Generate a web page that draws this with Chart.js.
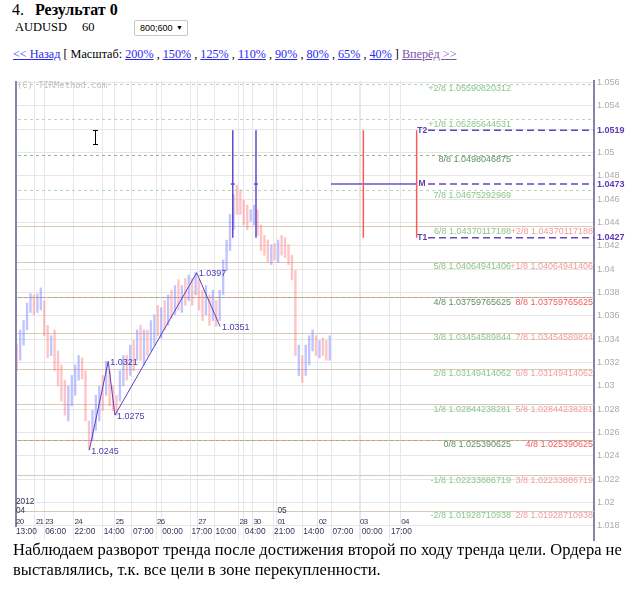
<!DOCTYPE html>
<html>
<head>
<meta charset="utf-8">
<script src="https://cdn.jsdelivr.net/npm/chart.js@4.4.0/dist/chart.umd.min.js"></script>
<style>
  body { margin: 0; background: #fff; color: #000; font-family: 'Liberation Serif', serif; width: 642px; height: 592px; overflow: hidden; position: relative; }
  .abs { position: absolute; white-space: nowrap; }
  a { color: #2a2aee; text-decoration: underline; }
  a.vis { color: #7b52a8; }
  #sel { position: absolute; left: 134px; top: 20px; width: 52px; height: 14px; border: 1px solid #c8c8c8; border-radius: 2px; font: 9px 'Liberation Sans', sans-serif; line-height: 14px; }
  #sel span { position: absolute; left: 5px; }
  #sel i { position: absolute; right: 4px; top: 0; font-style: normal; font-size: 7px; }
  #chartWrap { position: absolute; left: 0; top: 76px; width: 642px; height: 470px; }
  .beam { position: absolute; background: #000; }
</style>
</head>
<body>
<div class="abs" style="left:12px;top:0;font-size:16px;line-height:20px">4.<b style="margin-left:11px">Результат 0</b></div>
<div class="abs" style="left:15px;top:20px;font-size:12.5px;line-height:14px">AUDUSD</div>
<div class="abs" style="left:82px;top:20px;font-size:12.5px;line-height:14px">60</div>
<div id="sel"><span>800;600</span><i>&#9660;</i></div>
<div class="abs" style="left:13px;top:47px;font-size:12.2px;line-height:15px">
  <a href="#">&lt;&lt; Назад</a> [ Масштаб: <a href="#">200%</a> , <a href="#">150%</a> , <a href="#">125%</a> , <a href="#">110%</a> , <a href="#">90%</a> , <a href="#">80%</a> , <a href="#">65%</a> , <a href="#">40%</a> ] <a class="vis" href="#">Вперёд &gt;&gt;</a>
</div>

<div id="chartWrap"><canvas id="chart" width="642" height="470"></canvas></div>

<!-- text cursor left on the screenshot -->
<div class="beam" style="left:95px;top:131px;width:1px;height:13px"></div>
<div class="beam" style="left:93px;top:130px;width:5px;height:1px"></div>
<div class="beam" style="left:93px;top:144px;width:5px;height:1px"></div>

<div class="abs" style="left:13px;top:540px;font-size:16.5px;line-height:20px">Наблюдаем разворот тренда после достижения второй по ходу тренда цели. Ордера не<br>выставлялись, т.к. все цели в зоне перекупленности.</div>

<script>
// bar positions, in hours from the first bar (20.04 13:00), one bar per 2 hours
var barHours = [1, 3, 5, 7, 9, 11, 13, 15, 17, 19, 21, 23, 25, 27, 29, 31, 33, 35, 37, 39,
  41, 43, 45, 47, 49, 51, 53, 55, 57, 59, 61, 63, 65, 67, 69, 71, 73, 75, 77, 79,
  81, 83, 85, 87, 89, 91, 93, 95, 97, 99, 101, 103, 105, 107, 109, 111, 113, 115, 117, 119,
  121, 123, 125, 127, 129, 131, 133, 135, 137, 139, 141, 143, 145, 147, 149, 151, 153, 155, 157, 159,
  161, 163, 165, 167, 169, 171, 173, 175, 177, 179, 181, 183];
var barHigh = [1.0336, 1.0348, 1.0356, 1.0371, 1.0379, 1.0378, 1.0379, 1.0384, 1.0373, 1.0352,
  1.0343, 1.0348, 1.0330, 1.0318, 1.0305, 1.0300, 1.0309, 1.0318, 1.0326, 1.0324,
  1.0313, 1.0270, 1.0279, 1.0292, 1.0300, 1.0309, 1.0321, 1.0313, 1.0300, 1.0292,
  1.0313, 1.0326, 1.0326, 1.0335, 1.0339, 1.0348, 1.0352, 1.0348, 1.0348, 1.0356,
  1.0361, 1.0369, 1.0367, 1.0373, 1.0378, 1.0382, 1.0386, 1.0391, 1.0386, 1.0392,
  1.0395, 1.0392, 1.0397, 1.0391, 1.0382, 1.0386, 1.0378, 1.0382, 1.0373, 1.0382,
  1.0408, 1.0425, 1.0447, 1.0464, 1.0472, 1.0468, 1.0459, 1.0455, 1.0451, 1.0455,
  1.0451, 1.0438, 1.0429, 1.0425, 1.0421, 1.0422, 1.0425, 1.0429, 1.0427, 1.0421,
  1.0412, 1.0399, 1.0335, 1.0326, 1.0335, 1.0343, 1.0348, 1.0343, 1.0339, 1.0341,
  1.0339, 1.0343];
var barLow = [1.0313, 1.0322, 1.0335, 1.0348, 1.0363, 1.0361, 1.0363, 1.0365, 1.0343, 1.0324,
  1.0326, 1.0313, 1.0300, 1.0287, 1.0275, 1.0270, 1.0283, 1.0292, 1.0305, 1.0306,
  1.0270, 1.0245, 1.0253, 1.0262, 1.0270, 1.0279, 1.0292, 1.0283, 1.0279, 1.0275,
  1.0287, 1.0300, 1.0305, 1.0309, 1.0313, 1.0322, 1.0322, 1.0318, 1.0326, 1.0330,
  1.0335, 1.0343, 1.0341, 1.0348, 1.0352, 1.0358, 1.0361, 1.0365, 1.0363, 1.0369,
  1.0373, 1.0369, 1.0378, 1.0365, 1.0356, 1.0361, 1.0352, 1.0356, 1.0351, 1.0356,
  1.0378, 1.0399, 1.0416, 1.0434, 1.0447, 1.0447, 1.0438, 1.0434, 1.0441, 1.0438,
  1.0429, 1.0416, 1.0412, 1.0406, 1.0404, 1.0408, 1.0406, 1.0412, 1.0410, 1.0404,
  1.0391, 1.0326, 1.0309, 1.0303, 1.0309, 1.0318, 1.0330, 1.0326, 1.0324, 1.0326,
  1.0322, 1.0322];
// 1 = rising bar (blue), 0 = falling bar (red)
var barUp = [0, 1, 1, 1, 1, 0, 1, 1, 0, 0, 1, 0, 0, 0, 0, 1, 1, 1, 1, 0,
  0, 0, 1, 1, 1, 0, 1, 0, 0, 0, 1, 1, 0, 1, 0, 1, 0, 1, 0, 1,
  1, 0, 1, 0, 1, 0, 1, 0, 1, 0, 1, 0, 1, 0, 0, 1, 0, 1, 0, 1,
  1, 1, 1, 1, 0, 0, 0, 0, 1, 1, 0, 0, 0, 0, 1, 0, 1, 0, 0, 0,
  0, 0, 1, 0, 1, 1, 1, 0, 1, 0, 0, 1];

// zigzag
var zigHours = [43.2, 54.2, 58.1, 105.6, 119.2];
var zigPrices = [1.0245, 1.0321, 1.0275, 1.0397, 1.0351];

// murrey math levels
var greenLabels = ['+2/8', '+1/8', '8/8', '7/8', '6/8', '5/8', '4/8', '3/8', '2/8', '1/8', '0/8', '-1/8', '-2/8'];
var greenLevels = [1.05590820312, 1.05285644531, 1.0498046875, 1.04675292969, 1.04370117188, 1.04064941406,
  1.03759765625, 1.03454589844, 1.03149414062, 1.02844238281, 1.025390625, 1.02233886719, 1.01928710938];
var redLabels = ['+2/8', '+1/8', '8/8', '7/8', '6/8', '5/8', '4/8', '3/8', '2/8'];
var redLevels = [1.04370117188, 1.04064941406, 1.03759765625, 1.03454589844, 1.03149414062,
  1.02844238281, 1.025390625, 1.02233886719, 1.01928710938];

// targets
var targetLabels = ['T2', 'M', 'T1'];
var targetLevels = [1.0519, 1.0473, 1.0427];
var targetStartHour = 240.1;
var purpleMarkHours = [126.6, 140.1];
var redMarkHours = [202.5, 233.5];
var midLineHours = [183.7, 233.5];

// time axis
var dateHours = [0, 11.6, 17, 34, 58, 82, 106, 130, 138, 152, 176, 200, 224];
var dateLabels = ['20', '21', '23', '24', '25', '26', '27', '28', '30', '01', '02', '03', '04'];
var timeHours = [0, 17, 34, 51, 68, 85, 102, 116, 133, 150, 167, 184, 201, 218];
var timeLabels = ['13:00', '06:00', '22:00', '14:00', '07:00', '00:00', '17:00', '10:00', '04:00', '21:00', '14:00', '07:00', '00:00', '17:00'];
var monthHours = [0, 152];
var monthLabels = ['04', '05'];
var yearLabel = '2012';

// price axis
var yTickValues = [1.018, 1.02, 1.022, 1.024, 1.026, 1.028, 1.03, 1.032, 1.034, 1.036, 1.038,
  1.04, 1.042, 1.044, 1.046, 1.048, 1.05, 1.052, 1.054, 1.056];
var yTickLabels = ['1.018', '1.02', '1.022', '1.024', '1.026', '1.028', '1.03', '1.032', '1.034', '1.036', '1.038',
  '1.04', '1.042', '1.044', '1.046', '1.048', '1.05', '', '1.054', '1.056'];

var SANS = "'Liberation Sans', Arial, sans-serif";

function hline(ctx, a, py, color, dash, offset) {
  ctx.strokeStyle = color;
  ctx.setLineDash(dash);
  ctx.lineDashOffset = offset;
  ctx.beginPath();
  ctx.moveTo(a.left, py);
  ctx.lineTo(a.right, py);
  ctx.stroke();
}

function isStrong(label) { return label === '8/8' || label === '4/8' || label === '0/8'; }

var overlay = {
  id: 'overlay',
  beforeDatasetsDraw: function (chart) {
    var ctx = chart.ctx, a = chart.chartArea, y = chart.scales.y;
    ctx.save();
    ctx.lineWidth = 1;
    redLevels.forEach(function (v, i) {
      var py = Math.round(y.getPixelForValue(v)) + 0.5;
      hline(ctx, a, py, isStrong(redLabels[i]) ? '#ff9c9c' : '#ffb8b8', [3, 3], 0);
    });
    greenLevels.forEach(function (v, i) {
      var py = Math.round(y.getPixelForValue(v)) + 0.5;
      hline(ctx, a, py, isStrong(greenLabels[i]) ? '#8cb88c' : '#b2dab2', [3, 3], 3);
    });
    ctx.restore();
  },
  afterDatasetsDraw: function (chart) {
    var ctx = chart.ctx, a = chart.chartArea, x = chart.scales.x, y = chart.scales.y;
    ctx.save();
    ctx.textBaseline = 'middle';

    // left axis line
    ctx.fillStyle = '#8484a4';
    ctx.fillRect(a.left, a.top, 2, a.bottom - a.top - 13);

    // price axis labels
    ctx.font = '9px ' + SANS;
    ctx.textAlign = 'left';
    ctx.fillStyle = '#ababab';
    yTickValues.forEach(function (v, i) {
      ctx.fillText(yTickLabels[i], a.right + 3, y.getPixelForValue(v));
    });

    // murrey labels
    ctx.textAlign = 'right';
    greenLevels.forEach(function (v, i) {
      ctx.fillStyle = isStrong(greenLabels[i]) ? '#5f8f5f' : '#8cc68c';
      ctx.fillText(greenLabels[i] + ' ' + String(v), a.right - 83, y.getPixelForValue(v) + 5);
    });
    redLevels.forEach(function (v, i) {
      var strong = redLabels[i] === '8/8' || redLabels[i] === '4/8';
      ctx.fillStyle = strong ? '#f25c5c' : '#f29c9c';
      ctx.fillText(redLabels[i] + ' ' + String(v), a.right - 1, y.getPixelForValue(v) + 5);
    });

    // zigzag labels
    ctx.textAlign = 'left';
    ctx.fillStyle = '#4a3aa8';
    zigHours.forEach(function (h, i) {
      ctx.fillText(zigPrices[i].toFixed(4), x.getPixelForValue(h) + 2, y.getPixelForValue(zigPrices[i]) + 1);
    });

    // target names and prices
    ctx.font = 'bold 8.5px ' + SANS;
    ctx.textAlign = 'center';
    ctx.fillStyle = '#5a3ab8';
    var tx = x.getPixelForValue(redMarkHours[1]) + 5.5;
    targetLevels.forEach(function (v, i) {
      ctx.fillText(targetLabels[i], tx, y.getPixelForValue(v));
    });
    ctx.font = 'bold 9px ' + SANS;
    ctx.textAlign = 'left';
    targetLevels.forEach(function (v) {
      ctx.fillText(v.toFixed(4), a.right + 3, y.getPixelForValue(v));
    });

    // time axis labels
    ctx.font = '8.3px ' + SANS;
    ctx.fillStyle = '#34345a';
    ctx.fillText(yearLabel, x.getPixelForValue(0) + 1, a.bottom - 38);
    monthHours.forEach(function (h, i) {
      ctx.fillText(monthLabels[i], x.getPixelForValue(h) + 1, a.bottom - 29);
    });
    timeHours.forEach(function (h, i) {
      ctx.fillText(timeLabels[i], x.getPixelForValue(h) + 1, a.bottom - 8.3);
    });
    ctx.font = '8px ' + SANS;
    ctx.letterSpacing = '-0.8px';
    dateHours.forEach(function (h, i) {
      ctx.fillText(dateLabels[i], x.getPixelForValue(h) + 1, a.bottom - 18.5);
    });
    ctx.letterSpacing = '0px';

    // watermark
    ctx.font = "8.8px 'DejaVu Sans Mono', monospace";
    ctx.fillStyle = '#c2c2c2';
    ctx.fillText('(C) TIRMethod.com', a.left + 2, a.top + 5);
    ctx.restore();
  }
};

var gridHours = dateHours.concat(timeHours).filter(function (h, i, arr) {
  return h > 0 && arr.indexOf(h) === i;
}).sort(function (p, q) { return p - q; });

function seg(points, color, extra) {
  return Object.assign({
    type: 'line',
    data: points,
    borderColor: color,
    borderWidth: 1.5,
    pointRadius: 0,
    fill: false,
    order: 2
  }, extra || {});
}

var datasets = [];
datasets.push(seg(zigHours.map(function (h, i) { return { x: h, y: zigPrices[i] }; }), '#5a40c0', { borderWidth: 1, order: 1 }));
purpleMarkHours.forEach(function (h) {
  datasets.push(seg([{ x: h, y: targetLevels[0] }, { x: h, y: targetLevels[1] }, { x: h, y: targetLevels[2] }], '#6848c8', {
    pointRadius: [0, 2, 0], pointStyle: 'line', pointBorderColor: '#6848c8', pointBorderWidth: 1.5
  }));
});
redMarkHours.forEach(function (h) {
  datasets.push(seg([{ x: h, y: targetLevels[0] }, { x: h, y: targetLevels[2] }], '#ff5a5a'));
});
datasets.push(seg([{ x: midLineHours[0], y: targetLevels[1] }, { x: midLineHours[1], y: targetLevels[1] }], '#6c54c4', { order: 3 }));
targetLevels.forEach(function (v) {
  datasets.push(seg([{ x: targetStartHour, y: v }, { x: 336.6, y: v }], '#6048c0', { borderDash: [7, 4] }));
});
datasets.push({
  type: 'bar',
  data: barHours.map(function (h, i) { return { x: h, y: [barLow[i], barHigh[i]] }; }),
  backgroundColor: barUp.map(function (u) { return u ? 'rgba(115,125,255,0.45)' : 'rgba(255,115,115,0.42)'; }),
  barThickness: 1.7,
  grouped: false,
  order: 5
});

new Chart(document.getElementById('chart'), {
  type: 'bar',
  data: { datasets: datasets },
  options: {
    responsive: false,
    animation: false,
    devicePixelRatio: 1,
    layout: { padding: { left: 15, right: 0, top: 5, bottom: 6 } },
    plugins: { legend: { display: false }, tooltip: { enabled: false } },
    scales: {
      x: {
        type: 'linear', min: 0, max: 336.6, offset: false,
        afterBuildTicks: function (s) { s.ticks = gridHours.map(function (v) { return { value: v }; }); },
        afterFit: function (s) { s.height = 0; },
        grid: { color: '#e8e8e8', drawTicks: false, offset: false },
        border: { display: false },
        ticks: { display: false }
      },
      y: {
        position: 'right', min: 1.0168, max: 1.05613,
        afterBuildTicks: function (s) { s.ticks = yTickValues.map(function (v) { return { value: v }; }); },
        afterFit: function (s) { s.width = 48; },
        grid: { color: '#e6e6e6', drawTicks: false },
        border: { display: true, color: '#8484a4', width: 2 },
        ticks: { display: false }
      }
    }
  },
  plugins: [overlay]
});
</script>
</body>
</html>
